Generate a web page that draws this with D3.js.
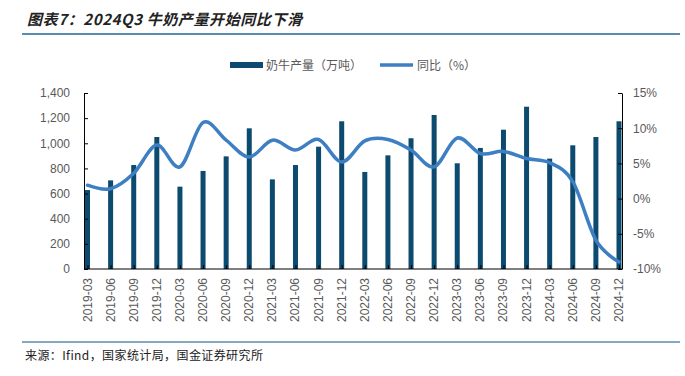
<!DOCTYPE html>
<html>
<head>
<meta charset="utf-8">
<script src="https://cdn.jsdelivr.net/npm/d3@7"></script>
<style>
  body { margin: 0; background: #fff; }
  svg { display: block; font-family: "Liberation Sans", Arial, sans-serif; }
  .axis path, .axis line { stroke: #000; }
  .axis text { fill: #595959; font-size: 12px; }
</style>
</head>
<body>
<div class="container"></div>
<script>
const WIDTH = 685;
const HEIGHT = 376;

const PLOT_LEFT = 84;
const PLOT_RIGHT = 622;
const PLOT_TOP = 93;
const PLOT_BOTTOM = 269;

const BAR_COLOR = "#0d4a6f";
const LINE_COLOR = "#3d7fc2";
const TEXT_COLOR = "#595959";

const quarters = ["2019-03","2019-06","2019-09","2019-12","2020-03","2020-06","2020-09","2020-12",
                  "2021-03","2021-06","2021-09","2021-12","2022-03","2022-06","2022-09","2022-12",
                  "2023-03","2023-06","2023-09","2023-12","2024-03","2024-06","2024-09","2024-12"];

// 奶牛产量（万吨）
const milkOutput = [628, 705, 827, 1050, 655, 780, 896, 1119,
                    713, 827, 973, 1175, 772, 904, 1040, 1225,
                    841, 963, 1108, 1291, 878, 984, 1050, 1175];

// 同比（%）
const yoyGrowth = [1.9, 1.4, 3.6, 7.6, 4.5, 10.8, 8.3, 5.9,
                   8.3, 6.9, 8.4, 5.2, 8.2, 8.4, 6.9, 4.5,
                   8.6, 6.4, 6.7, 5.7, 5.1, 2.4, -5.9, -9.0];

const leftTicks = [0, 200, 400, 600, 800, 1000, 1200, 1400];
const rightTicks = [-10, -5, 0, 5, 10, 15];

var svg = d3.select('.container').append('svg')
    .attr('width', WIDTH)
    .attr('height', HEIGHT);

var xScale = d3.scalePoint()
    .domain(quarters)
    .range([87.5, 619]);

var yLeft = d3.scaleLinear()
    .domain([0, 1400])
    .range([PLOT_BOTTOM, PLOT_TOP]);

var yRight = d3.scaleLinear()
    .domain([-10, 15])
    .range([PLOT_BOTTOM, PLOT_TOP]);

// title
svg.append('text')
    .attr('x', 27)
    .attr('y', 25)
    .attr('font-family', '"Noto Sans CJK SC", sans-serif')
    .attr('font-size', 15)
    .attr('font-weight', 'bold')
    .attr('font-style', 'italic')
    .attr('letter-spacing', 0.6)
    .attr('fill', '#222')
    .text('图表7：2024Q3 牛奶产量开始同比下滑');

svg.append('line')
    .attr('x1', 22).attr('x2', 680)
    .attr('y1', 34).attr('y2', 34)
    .attr('stroke', '#5b8cad')
    .attr('stroke-width', 2);

// legend
var legend = svg.append('g').attr('font-size', 12).attr('fill', TEXT_COLOR)
    .attr('font-family', '"Noto Sans CJK SC", sans-serif');
legend.append('rect').attr('x', 230).attr('y', 62).attr('width', 33).attr('height', 6).attr('fill', BAR_COLOR);
legend.append('text').attr('x', 266).attr('y', 69.5).text('奶牛产量（万吨）');
legend.append('line').attr('x1', 380).attr('x2', 413).attr('y1', 65).attr('y2', 65)
    .attr('stroke', LINE_COLOR).attr('stroke-width', 3.5);
legend.append('text').attr('x', 417).attr('y', 69.5).text('同比（%）');

// bars
svg.append('g').selectAll('rect')
    .data(milkOutput)
    .enter()
    .append('rect')
    .attr('x', function(d, i){ return xScale(quarters[i]) - 2.5; })
    .attr('width', 5)
    .attr('y', function(d){ return yLeft(d); })
    .attr('height', function(d){ return PLOT_BOTTOM - yLeft(d); })
    .attr('fill', BAR_COLOR);

// axes
var xAxis = d3.axisBottom(xScale).tickSizeInner(-4).tickSizeOuter(0).tickFormat('');
svg.append('g')
    .attr('class', 'axis')
    .attr('transform', 'translate(0,' + PLOT_BOTTOM + ')')
    .call(xAxis)
    .call(function(g){ g.select('.domain').attr('d', 'M' + PLOT_LEFT + ',0H' + PLOT_RIGHT); });

svg.append('g').selectAll('text')
    .data(quarters)
    .enter()
    .append('text')
    .attr('transform', function(d){ return 'translate(' + (xScale(d) + 4) + ',' + 278 + ') rotate(-90)'; })
    .attr('text-anchor', 'end')
    .attr('font-size', 12)
    .attr('fill', TEXT_COLOR)
    .text(function(d){ return d; });

var leftAxis = d3.axisLeft(yLeft).tickValues(leftTicks).tickSizeInner(-4).tickSizeOuter(0)
    .tickPadding(14).tickFormat(d3.format(','));
svg.append('g')
    .attr('class', 'axis')
    .attr('transform', 'translate(' + PLOT_LEFT + ',0)')
    .call(leftAxis);

var rightAxis = d3.axisRight(yRight).tickValues(rightTicks).tickSizeInner(-4).tickSizeOuter(0)
    .tickPadding(11).tickFormat(function(d){ return d + '%'; });
svg.append('g')
    .attr('class', 'axis')
    .attr('transform', 'translate(' + PLOT_RIGHT + ',0)')
    .call(rightAxis);

// line
var line = d3.line()
    .x(function(d, i){ return xScale(quarters[i]); })
    .y(function(d){ return yRight(d); })
    .curve(d3.curveCardinal);

svg.append('path')
    .datum(yoyGrowth)
    .attr('d', line)
    .attr('fill', 'none')
    .attr('stroke', LINE_COLOR)
    .attr('stroke-width', 3.5)
    .attr('stroke-linecap', 'round');

// source
svg.append('line')
    .attr('x1', 22).attr('x2', 680)
    .attr('y1', 342).attr('y2', 342)
    .attr('stroke', '#5b8cad')
    .attr('stroke-width', 1.5);

svg.append('text')
    .attr('x', 25)
    .attr('y', 360)
    .attr('font-family', '"Noto Sans CJK SC", sans-serif')
    .attr('font-size', 12)
    .attr('letter-spacing', 0.4)
    .attr('fill', '#222')
    .text('来源：Ifind，国家统计局，国金证券研究所');
</script>
</body>
</html>
